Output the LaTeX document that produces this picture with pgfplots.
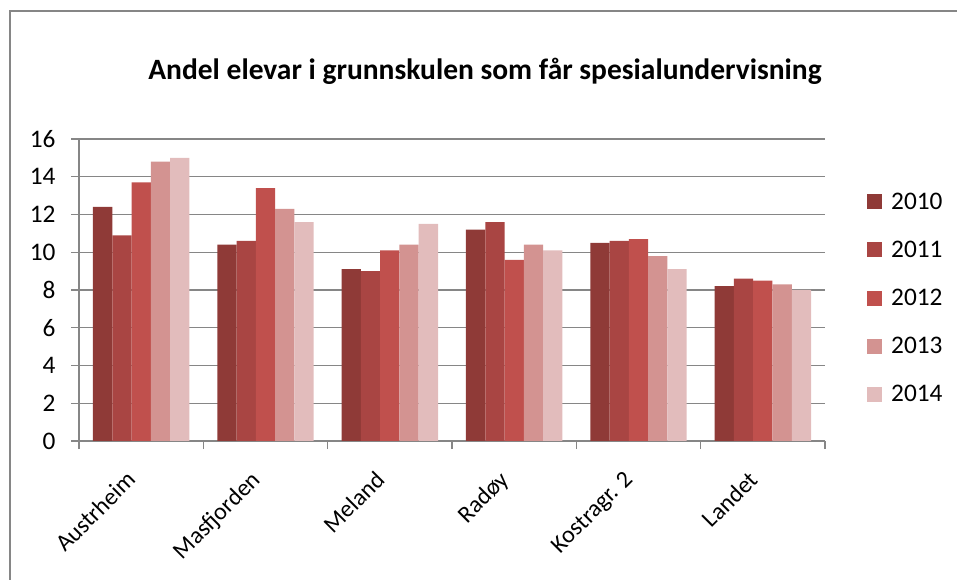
\documentclass[border=0pt]{standalone}
\usepackage{fontspec}
\setmainfont{Carlito}
\usepackage{pgfplots}
\pgfplotsset{compat=1.18}
\definecolor{c2010}{HTML}{8F3A37}
\definecolor{c2011}{HTML}{A94543}
\definecolor{c2012}{HTML}{C0504D}
\definecolor{c2013}{HTML}{D39391}
\definecolor{c2014}{HTML}{E2BCBC}
\definecolor{gridgray}{HTML}{868686}
\begin{document}
\begin{tikzpicture}[x=1pt,y=1pt]
\path[use as bounding box] (0,0) rectangle (957,580);
\draw[gridgray, line width=1.3pt] (10,-5) -- (10,569) -- (962,569);
\node[anchor=base, font=\fontsize{29.5}{35}\selectfont\bfseries] at (485,500) {Andel elevar i grunnskulen som får spesialundervisning};
\begin{axis}[
  at={(79pt,139pt)}, anchor=south west,
  scale only axis, width=746pt, height=302pt,
  xmin=-0.5, xmax=5.5, ymin=0, ymax=16,
  ytick={0,2,...,16},
  xtick={-0.5,0.5,...,5.5},
  x tick label as interval,
  xticklabels={Austrheim,Masfjorden,Meland,Radøy,Kostragr. 2,Landet},
  xticklabel style={rotate=45, anchor=north east, xshift=-22pt, yshift=0pt, font=\fontsize{24}{29}\selectfont},
  yticklabel style={xshift=-12pt, font=\fontsize{25.3}{30}\selectfont},
  /pgf/number format/assume math mode=true,
  tick label style={text=black},
  axis lines*=left,
  axis line style={gridgray, line width=1.3pt},
  ymajorgrids, xmajorgrids=false,
  grid style={gridgray, line width=1.3pt},
  tick align=outside, major tick length=8pt,
  tick style={gridgray, line width=1.3pt},
  ybar=0pt, bar width=0.155,
  legend style={draw=none, fill=none, at={(axis description cs:1,0.4735)}, anchor=west, xshift=39pt,
    font=\fontsize{25.3}{30}\selectfont, row sep=26.3pt, legend cell align=left,
    /tikz/every odd column/.append style={column sep=7pt}},
  legend image code/.code={\fill[#1] (0pt,-7.5pt) rectangle (15pt,7.5pt);},
]
\addplot[fill=c2010, draw=none] coordinates {(0,12.4) (1,10.4) (2,9.1) (3,11.2) (4,10.5) (5,8.2)};
\addplot[fill=c2011, draw=none] coordinates {(0,10.9) (1,10.6) (2,9.0) (3,11.6) (4,10.6) (5,8.6)};
\addplot[fill=c2012, draw=none] coordinates {(0,13.7) (1,13.4) (2,10.1) (3,9.6) (4,10.7) (5,8.5)};
\addplot[fill=c2013, draw=none] coordinates {(0,14.8) (1,12.3) (2,10.4) (3,10.4) (4,9.8) (5,8.3)};
\addplot[fill=c2014, draw=none] coordinates {(0,15.0) (1,11.6) (2,11.5) (3,10.1) (4,9.1) (5,8.0)};
\legend{2010,2011,2012,2013,2014}
\end{axis}
\end{tikzpicture}
\end{document}
